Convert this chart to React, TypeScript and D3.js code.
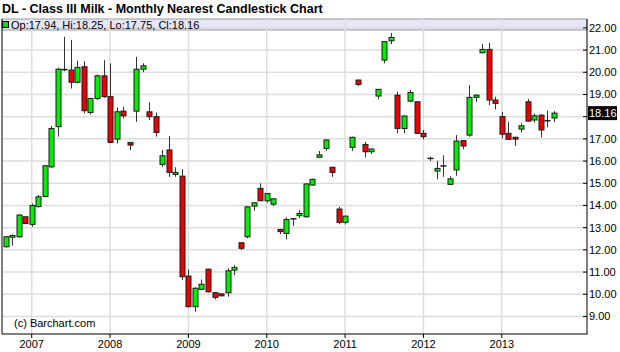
import React, { useRef, useEffect } from "react";
import * as d3 from "d3";

// monthly bars, Sep 2006 .. Sep 2013
const opens = [
  12.14, 12.57, 12.59, 13.49, 13.15, 13.95, 14.4, 15.74, 17.55, 20.1, 20.1, 19.55,
  20.25, 18.19, 18.82, 19.84, 18.9, 16.99, 18.25, 16.84, 18.25, 20.14, 18.22, 18.0,
  15.85, 16.5, 15.4, 15.32, 10.82, 9.44, 10.22, 11.13, 10.07, 10.02, 10.07, 11.09,
  12.32, 12.59, 13.97, 14.77, 14.21, 14.06, 12.92, 12.74, 13.38, 13.54, 13.49, 14.92,
  16.17, 16.57, 15.72, 13.84, 13.24, 16.62, 19.65, 16.75, 16.42, 18.93, 20.55, 21.42,
  18.97, 17.47, 18.7, 18.67, 17.25, 16.1, 15.55, 15.77, 14.95, 15.6, 16.92, 17.17,
  18.87, 20.88, 21.03, 18.75, 18.0, 17.25, 17.07, 17.44, 18.67, 17.85, 18.07, 17.8,
  17.94,
];
const highs = [
  12.6, 12.7, 13.6, 13.5, 14.09, 14.47, 15.82, 17.58, 20.2, 21.6, 21.45, 20.52,
  20.5, 18.85, 19.9, 20.55, 20.4, 18.42, 18.45, 16.85, 20.7, 20.4, 18.64, 18.19,
  16.5, 17.13, 15.72, 15.63, 11.12, 10.32, 10.67, 11.15, 10.1, 10.04, 11.17, 11.32,
  12.33, 13.96, 14.14, 15.0, 14.56, 14.32, 12.95, 13.46, 13.42, 13.79, 15.0, 15.2,
  16.46, 16.97, 15.74, 13.94, 13.54, 17.1, 19.67, 16.87, 16.57, 19.25, 21.4, 21.77,
  19.12, 18.07, 19.2, 18.7, 17.4, 16.2, 16.01, 16.26, 15.32, 17.17, 16.93, 19.42,
  19.0, 21.27, 21.33, 18.9, 18.22, 17.77, 17.1, 17.7, 18.79, 18.15, 18.1, 18.27,
  18.25,
];
const lows = [
  12.1, 12.2, 12.55, 13.15, 13.04, 13.9, 14.38, 15.7, 17.1, 20.05, 19.27, 19.5,
  18.15, 18.1, 18.75, 18.85, 16.8, 16.8, 17.92, 16.5, 17.77, 20.0, 17.85, 17.1,
  15.74, 15.29, 15.29, 10.64, 9.4, 9.21, 10.2, 10.08, 9.77, 9.9, 9.89, 10.86,
  11.99, 12.52, 13.76, 14.2, 14.12, 13.97, 12.71, 12.47, 13.07, 13.42, 13.45, 14.9,
  16.15, 16.46, 15.29, 13.15, 13.15, 16.46, 19.38, 16.17, 16.32, 18.78, 20.4, 21.27,
  17.25, 17.25, 18.65, 17.22, 16.98, 16.0, 15.18, 15.29, 14.93, 15.34, 16.53, 17.1,
  18.67, 20.85, 18.52, 18.33, 17.02, 16.95, 16.68, 17.29, 17.78, 17.73, 17.07, 17.52,
  17.75,
];
const closes = [
  12.59, 12.65, 13.57, 13.19, 14.0, 14.39, 15.79, 17.47, 20.14, 20.12, 19.55, 20.22,
  18.27, 18.82, 19.84, 18.9, 16.84, 18.22, 18.04, 16.72, 20.14, 20.29, 18.0, 17.29,
  16.24, 15.49, 15.49, 10.79, 9.44, 10.27, 10.45, 10.11, 9.86, 9.93, 11.06, 11.21,
  12.07, 13.94, 14.12, 14.21, 14.54, 14.3, 12.82, 13.37, 13.4, 13.64, 14.97, 15.18,
  16.28, 16.95, 15.49, 13.24, 13.52, 17.07, 19.45, 16.42, 16.54, 19.23, 21.38, 21.57,
  17.47, 18.03, 19.09, 17.25, 17.1, 16.12, 15.67, 15.78, 15.2, 16.9, 16.68, 18.87,
  18.97, 21.03, 18.75, 18.6, 17.21, 16.98, 16.99, 17.59, 17.8, 18.04, 17.4, 17.82,
  18.16,
];

const yearLabels = ["2007", "2008", "2009", "2010", "2011", "2012", "2013"];
const yearBarIndex = [4, 16, 28, 40, 52, 64, 76]; // January bar of each year
const priceTicks = [9, 10, 11, 12, 13, 14, 15, 16, 17, 18, 19, 20, 21, 22];
const lastPrice = 18.16;

const FONT = "'Liberation Sans', Arial, Helvetica, sans-serif";

function CandleChart() {
  const svgRef = useRef();

  useEffect(() => {
    const svg = d3.select(svgRef.current);
    svg.selectAll("*").remove();

    const left = 2, right = 587, top = 19, bottom = 334;

    const x = d3.scaleLinear().domain([-0.55, 89.05]).range([left, right]);
    const y = d3.scaleLinear().domain([8.21, 22.4]).range([bottom, top]);
    const fmt = d3.format(".2f");

    svg.append("rect").attr("width", 620).attr("height", 352).attr("fill", "#fff");

    // title
    svg.append("text")
      .attr("x", 2).attr("y", 13)
      .attr("font-family", FONT).attr("font-size", 12.5).attr("font-weight", "bold")
      .text("DL - Class III Milk - Monthly Nearest Candlestick Chart");

    // legend band
    svg.append("rect")
      .attr("x", left).attr("y", top).attr("width", right - left).attr("height", 11)
      .attr("fill", "#e6e6f8").attr("stroke", "#9a9a9a").attr("stroke-width", 1);

    // grid
    svg.append("g").selectAll("line").data(priceTicks).join("line")
      .attr("x1", left).attr("x2", right)
      .attr("y1", (d) => y(d)).attr("y2", (d) => y(d))
      .attr("stroke", "#dddddd").attr("stroke-width", 1.5);
    svg.append("g").selectAll("line").data(yearBarIndex).join("line")
      .attr("x1", (d) => x(d)).attr("x2", (d) => x(d))
      .attr("y1", top).attr("y2", bottom)
      .attr("stroke", "#dddddd").attr("stroke-width", 1.5);

    // axes lines
    svg.append("line").attr("x1", left).attr("x2", left).attr("y1", top).attr("y2", bottom)
      .attr("stroke", "#000");
    svg.append("line").attr("x1", right).attr("x2", right).attr("y1", top).attr("y2", bottom)
      .attr("stroke", "#000");
    svg.append("line").attr("x1", left).attr("x2", right + 0.5).attr("y1", bottom).attr("y2", bottom)
      .attr("stroke", "#000");

    // right axis ticks + labels (the label under the last-price box is hidden)
    const yAxis = svg.append("g").attr("font-family", FONT).attr("font-size", 11);
    yAxis.selectAll("line").data(priceTicks).join("line")
      .attr("x1", right - 4).attr("x2", right)
      .attr("y1", (d) => y(d)).attr("y2", (d) => y(d))
      .attr("stroke", "#000");
    yAxis.selectAll("text").data(priceTicks.filter((d) => Math.abs(d - lastPrice) > 0.5)).join("text")
      .attr("x", right + 2).attr("y", (d) => y(d)).attr("dy", "0.36em")
      .text((d) => fmt(d));

    // last price marker
    svg.append("rect")
      .attr("x", right + 1).attr("y", y(lastPrice) - 7).attr("width", 29).attr("height", 14)
      .attr("fill", "#000");
    svg.append("text")
      .attr("x", right + 2).attr("y", y(lastPrice)).attr("dy", "0.36em")
      .attr("font-family", FONT).attr("font-size", 11).attr("fill", "#fff")
      .text(fmt(lastPrice));

    // bottom axis
    const xAxis = svg.append("g").attr("font-family", FONT).attr("font-size", 11);
    xAxis.selectAll("line").data(yearBarIndex).join("line")
      .attr("x1", (d) => x(d)).attr("x2", (d) => x(d))
      .attr("y1", bottom).attr("y2", bottom + 4)
      .attr("stroke", "#000");
    xAxis.selectAll("text").data(yearLabels).join("text")
      .attr("x", (d, i) => x(yearBarIndex[i])).attr("y", 348)
      .attr("text-anchor", "middle")
      .text((d) => d);

    // candles
    const bars = opens.map((o, i) => ({ i, o, h: highs[i], l: lows[i], c: closes[i] }));
    const bw = 5;
    const cx = (d) => Math.round(x(d.i)) + 0.5;
    const g = svg.append("g");
    g.selectAll("line.wick").data(bars).join("line")
      .attr("class", "wick")
      .attr("x1", cx).attr("x2", cx)
      .attr("y1", (d) => y(d.h)).attr("y2", (d) => y(d.l))
      .attr("stroke", "#333").attr("stroke-width", 1);
    g.selectAll("rect").data(bars.filter((d) => Math.abs(d.c - d.o) >= 0.03)).join("rect")
      .attr("x", (d) => cx(d) - bw / 2)
      .attr("y", (d) => y(Math.max(d.o, d.c)))
      .attr("width", bw)
      .attr("height", (d) => Math.max(1, Math.abs(y(d.o) - y(d.c))))
      .attr("fill", (d) => (d.c > d.o ? "#00ee00" : "#ee0000"))
      .attr("stroke", "#1a1a1a").attr("stroke-width", 1);
    g.selectAll("line.doji").data(bars.filter((d) => Math.abs(d.c - d.o) < 0.03)).join("line")
      .attr("class", "doji")
      .attr("x1", (d) => cx(d) - bw / 2 - 0.5)
      .attr("x2", (d) => cx(d) + bw / 2 + 0.5)
      .attr("y1", (d) => y(d.c)).attr("y2", (d) => y(d.c))
      .attr("stroke", "#1a1a1a").attr("stroke-width", 1.5);

    // legend
    const n = opens.length - 1;
    svg.append("rect")
      .attr("x", 2.5).attr("y", 21.5).attr("width", 6).attr("height", 6)
      .attr("fill", "#00dd00").attr("stroke", "#000");
    svg.append("text")
      .attr("x", 11).attr("y", 28.5)
      .attr("font-family", FONT).attr("font-size", 11)
      .text(`Op:${fmt(opens[n])}, Hi:${fmt(highs[n])}, Lo:${fmt(lows[n])}, Cl:${fmt(closes[n])}`);

    svg.append("text")
      .attr("x", 14).attr("y", 327)
      .attr("font-family", FONT).attr("font-size", 11)
      .text("(c) Barchart.com");
  }, []);

  return (
    <svg
      ref={svgRef}
      width={620}
      height={352}
      style={{ position: "absolute", left: 0, top: 0 }}
    />
  );
}

export default function App() {
  return <CandleChart />;
}
